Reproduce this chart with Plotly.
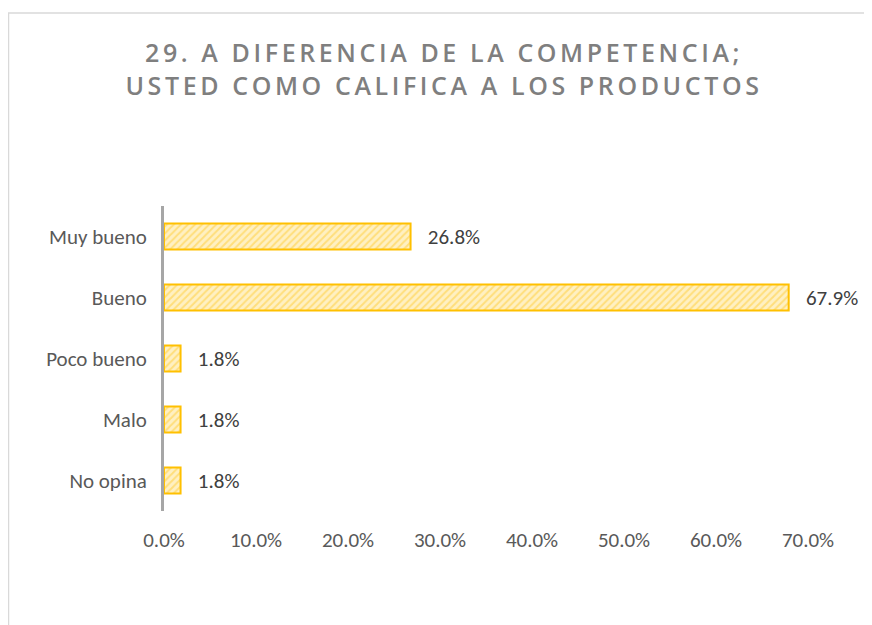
import plotly.graph_objects as go

categories = ["Muy bueno", "Bueno", "Poco bueno", "Malo", "No opina"]
values = [26.8, 67.9, 1.8, 1.8, 1.8]
tick_values = [0, 10, 20, 30, 40, 50, 60, 70]
tick_labels = [f"{v:.1f}%" for v in tick_values]
title_lines = ["29. A DIFERENCIA DE LA COMPETENCIA;", "USTED COMO CALIFICA A LOS PRODUCTOS"]

FONT = "Carlito, Calibri, Lato, sans-serif"
TITLE_FONT = "Open Sans, sans-serif"
W, H = 872, 625
L, R, T, B = 156, 72, 198, 122

title_html = "<br>".join(
    f'<span style="letter-spacing:3.6px">{line}</span>' for line in title_lines
)

fig = go.Figure(
    go.Bar(
        x=values,
        y=categories,
        orientation="h",
        marker=dict(
            color="#FFF0C2",
            line=dict(color="#FFC000", width=2),
            pattern=dict(shape="/", fgcolor="#FFCC33", bgcolor="#FFF0C2", size=5, solidity=0.4),
        ),
        text=values,
        texttemplate="\u00a0\u00a0\u00a0%{x:.1f}%",
        textposition="outside",
        textfont=dict(family=FONT, size=21, color="#404040"),
        cliponaxis=False,
        width=0.43,
    )
)

fig.update_layout(
    width=W,
    height=H,
    margin=dict(l=L, r=R, t=T, b=B),
    paper_bgcolor="white",
    plot_bgcolor="white",
    showlegend=False,
    title=dict(
        text=title_html,
        x=0.5,
        xanchor="center",
        y=0.913,
        yanchor="top",
        font=dict(family=TITLE_FONT, size=25, color="#7F7F7F", weight=600),
    ),
    xaxis=dict(
        range=[0, 70],
        tickvals=tick_values,
        ticktext=tick_labels,
        showgrid=False,
        zeroline=False,
        showline=False,
        ticks="outside",
        ticklen=10,
        tickcolor="rgba(0,0,0,0)",
        tickfont=dict(family=FONT, size=21, color="#595959"),
    ),
    yaxis=dict(
        categoryorder="array",
        categoryarray=categories,
        autorange="reversed",
        showgrid=False,
        zeroline=False,
        showline=True,
        linecolor="#A6A6A6",
        linewidth=3,
        ticks="outside",
        ticklen=10,
        tickcolor="rgba(0,0,0,0)",
        tickfont=dict(family=FONT, size=21, color="#595959"),
    ),
    shapes=[
        dict(
            type="rect",
            xref="paper",
            yref="paper",
            x0=(0.5 - L) / (W - L - R),
            x1=1.3,
            y0=-0.6,
            y1=(H - B - 5) / (H - T - B),
            line=dict(color="#D9D9D9", width=1.5),
            fillcolor="rgba(0,0,0,0)",
            layer="below",
        )
    ],
)

fig.write_html("out.html")
